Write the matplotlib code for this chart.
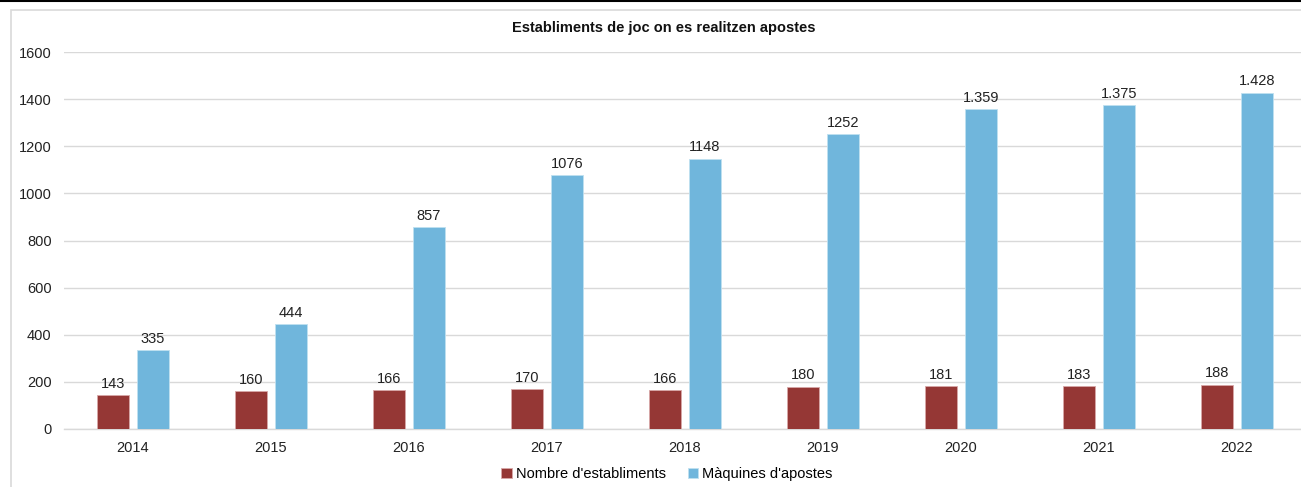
import matplotlib
matplotlib.use("Agg")
import matplotlib.pyplot as plt
import numpy as np
from matplotlib.patches import Rectangle
from matplotlib.lines import Line2D

plt.rcParams['font.family'] = ['Liberation Sans', 'DejaVu Sans']

years = ['2014', '2015', '2016', '2017', '2018', '2019', '2020', '2021', '2022']
establiments = [143, 160, 166, 170, 166, 180, 181, 183, 188]
maquines = [335, 444, 857, 1076, 1148, 1252, 1359, 1375, 1428]
maquines_labels = ['335', '444', '857', '1076', '1148', '1252', '1.359', '1.375', '1.428']
series_names = ["Nombre d'establiments", "Màquines d'apostes"]
title = "Establiments de joc on es realitzen apostes"

W, H = 1301, 487
fig = plt.figure(figsize=(W / 100, H / 100), dpi=100)

# top black line and light chart border
fig.add_artist(Line2D([0, 1], [1 - 0.5 / H, 1 - 0.5 / H], color='black', lw=1.5, transform=fig.transFigure))
fig.add_artist(Rectangle((11 / W, -0.05), 1.2, 1 - 10 / H + 0.05, transform=fig.transFigure,
                         fill=False, edgecolor='#d9d9d9', lw=1.2))

ax_left, ax_right = 64 / W, 1306 / W
ax_bottom, ax_top = 1 - 429 / H, 1 - 52 / H
ax = fig.add_axes([ax_left, ax_bottom, ax_right - ax_left, ax_top - ax_bottom])

fs = 10.5
x = np.arange(len(years))
bw = 0.235
c1, c2 = '#953735', '#70B6DC'
b1 = ax.bar(x - 0.143, establiments, bw, color=c1, edgecolor='#d8a8a8', lw=0.6, zorder=3, label=series_names[0])
b2 = ax.bar(x + 0.143, maquines, bw, color=c2, edgecolor='#bfe0f0', lw=0.6, zorder=3, label=series_names[1])

for xi, v in zip(x, establiments):
    ax.text(xi - 0.143, v + 18, str(v), ha='center', va='bottom', fontsize=fs, color='#222222')
for xi, v, lab in zip(x, maquines, maquines_labels):
    ax.text(xi + 0.143, v + 18, lab, ha='center', va='bottom', fontsize=fs, color='#222222')

ax.set_xlim(-0.5, len(years) - 0.5)
ax.set_ylim(0, 1600)
ax.set_yticks(range(0, 1601, 200))
ax.set_xticks(x)
ax.set_xticklabels(years)
ax.tick_params(axis='both', length=0, labelsize=fs, colors='#222222')
ax.tick_params(axis='x', pad=9)
ax.tick_params(axis='y', pad=9)
ax.yaxis.grid(True, color='#d9d9d9', lw=1)
ax.set_axisbelow(True)
for s in ['top', 'right', 'left']:
    ax.spines[s].set_visible(False)
ax.spines['bottom'].set_color('#d9d9d9')
ax.spines['bottom'].set_linewidth(1)

fig.text(664 / W, 1 - 28 / H, title, ha='center', va='center', fontsize=fs, fontweight='bold', color='#111111')

leg = fig.legend(handles=[b1, b2], labels=series_names, loc='center', bbox_to_anchor=(667 / W, 1 - 474 / H),
                 ncol=2, frameon=False, fontsize=fs, handlelength=0.7, handleheight=0.7,
                 handletextpad=0.3, columnspacing=1.5)

fig.savefig('out.png', dpi=100)
